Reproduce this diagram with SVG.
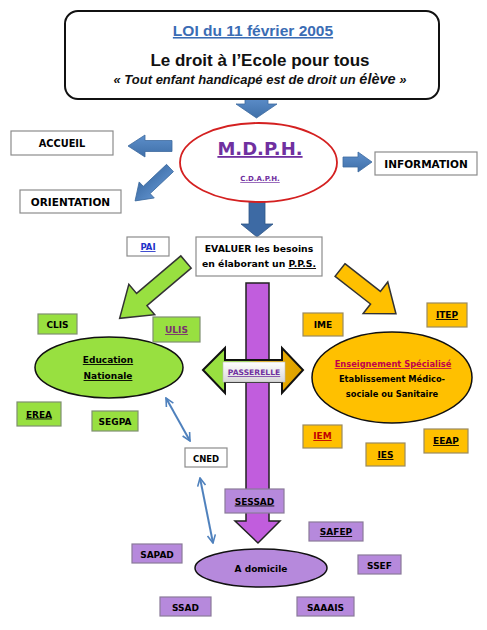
<svg xmlns="http://www.w3.org/2000/svg" width="487" height="630" viewBox="0 0 487 630">
<defs>
<style>
.c{font-family:"DejaVu Sans","Liberation Sans",sans-serif;font-weight:bold;text-anchor:middle;}
.a{font-family:"Liberation Sans",Arial,sans-serif;font-weight:bold;text-anchor:middle;}
.u{text-decoration:underline;}
.wb{fill:#fff;stroke:#8c8c8c;stroke-width:1.2;}
.gb{fill:#98e040;stroke:#7f8f70;stroke-width:1.2;}
.ob{fill:#ffc000;stroke:#9a8a60;stroke-width:1.2;}
.pb{fill:#b689dc;stroke:#8a7a99;stroke-width:1.2;}
.blue{fill:url(#gblue);stroke:#3d6a9e;stroke-width:0.8;}
</style>
<linearGradient id="gblue" x1="0" y1="0" x2="0" y2="1">
<stop offset="0" stop-color="#5d8fcb"/><stop offset="1" stop-color="#3f6fa8"/>
</linearGradient>
<linearGradient id="gpass" x1="0" y1="0" x2="1" y2="0">
<stop offset="0" stop-color="#98e040"/><stop offset="0.45" stop-color="#98e040"/>
<stop offset="0.55" stop-color="#f0b400"/><stop offset="1" stop-color="#dca000"/>
</linearGradient>
<linearGradient id="glab" x1="0" y1="0" x2="0" y2="1">
<stop offset="0" stop-color="#ffffff"/><stop offset="1" stop-color="#d8d8d8"/>
</linearGradient>
<marker id="ah" viewBox="0 0 10 10" refX="9" refY="5" markerWidth="5" markerHeight="5" orient="auto-start-reverse" markerUnits="strokeWidth">
<path d="M1,1 L9,5 L1,9" fill="none" stroke="#4f81bd" stroke-width="1.6"/>
</marker>
</defs>
<rect width="487" height="630" fill="#fff"/>

<g id="connectors">
<polygon class="blue" points="245,97 268,97 268,104 277,104 256.5,118 236,104 245,104"/>
<polygon class="blue" points="172,140.5 145,140.5 145,135 128,146 145,157 145,151.5 172,151.5"/>
<polygon class="blue" transform="translate(170,168) rotate(136.7)" points="0,-5 32,-5 32,-11 48,0 32,11 32,5 0,5"/>
<polygon class="blue" points="343,157 358,157 358,152 372,162 358,172 358,167 343,167"/>
<polygon fill="#3d6aa4" stroke="#2f5585" stroke-width="0.8" points="249,197 265,197 265,224 273,224 257,237 241,224 249,224"/>
<polygon fill="#98e040" stroke="#333" stroke-width="1.5" transform="translate(186,262) rotate(139.7)" points="0,-8 58,-8 58,-20 87,0 58,20 58,8 0,8"/>
<polygon fill="#ffc000" stroke="#333" stroke-width="1.5" transform="translate(340,270) rotate(38)" points="0,-8 45,-8 45,-20 71,0 45,20 45,8 0,8"/>
<polygon fill="#c15ddd" stroke="#222" stroke-width="1.5" points="246,283 269,283 269,521 280,521 258,543 235,521 246,521"/>
<polygon fill="url(#gpass)" stroke="#111" stroke-width="2" points="203,370 225,348 225,360 282,360 282,348 303,370 282,393 282,382 225,382 225,393"/>
<line x1="166" y1="398" x2="190" y2="441" stroke="#4f81bd" stroke-width="2" marker-start="url(#ah)" marker-end="url(#ah)"/>
<line x1="200" y1="478" x2="213" y2="543" stroke="#4f81bd" stroke-width="2" marker-start="url(#ah)" marker-end="url(#ah)"/>
</g>

<g id="loi">
<rect x="65" y="11" width="374" height="88" rx="13" fill="#fff" stroke="#111" stroke-width="2"/>
<text class="a u" x="253" y="36" font-size="15.5" fill="#3a6cb4">LOI du 11 février 2005</text>
<text class="a" x="260" y="66" font-size="17" fill="#111">Le droit à l’Ecole pour tous</text>
<text class="a" x="260" y="84" font-size="13" font-style="italic" fill="#111">« Tout enfant handicapé est de droit un <tspan font-size="14.5">élève</tspan> »</text>
</g>

<g id="mdph">
<ellipse cx="258.5" cy="162.5" rx="78.5" ry="39.5" fill="#fff" stroke="#d42020" stroke-width="1.8"/>
<text class="c u" x="260" y="155" font-size="18" fill="#7030a0">M.D.P.H.</text>
<text class="c u" x="260" y="181" font-size="7" fill="#7030a0">C.D.A.P.H.</text>
</g>

<g id="accueil"><rect class="wb" x="11" y="131" width="102" height="24"/><text class="c" x="62" y="147" font-size="9.8">ACCUEIL</text></g>
<g id="orientation"><rect class="wb" x="20" y="190" width="101" height="23"/><text class="c" x="70.5" y="205.5" font-size="10.5">ORIENTATION</text></g>
<g id="information"><rect class="wb" x="375" y="152" width="102" height="23"/><text class="c" x="426" y="167.5" font-size="10.5">INFORMATION</text></g>

<g id="evaluer">
<rect class="wb" x="196" y="237" width="126" height="39"/>
<text class="c" x="259" y="252" font-size="9.3">EVALUER les besoins</text>
<text class="c" x="259" y="267" font-size="9.3">en élaborant un <tspan class="u">P.P.S.</tspan></text>
</g>
<g id="pai"><rect class="wb" x="127" y="237" width="42" height="19"/><text class="c u" x="148" y="250" font-size="8.5" fill="#2030c8">PAI</text></g>

<g id="education">
<ellipse cx="109" cy="367.5" rx="74" ry="30.5" fill="#98e040" stroke="#111" stroke-width="1.5"/>
<text class="c u" x="108" y="363" font-size="9">Education</text>
<text class="c u" x="108" y="379" font-size="9">Nationale</text>
</g>
<g id="clis"><rect class="gb" x="38" y="314" width="39" height="20"/><text class="c" x="57.5" y="328" font-size="9">CLIS</text></g>
<g id="ulis"><rect class="gb" x="153" y="317" width="47" height="25"/><text class="c u" x="176.5" y="333" font-size="9" fill="#7a3070">ULIS</text></g>
<g id="erea"><rect class="gb" x="17" y="402" width="44" height="24"/><text class="c u" x="39" y="417.5" font-size="9">EREA</text></g>
<g id="segpa"><rect class="gb" x="92" y="411" width="46" height="20"/><text class="c" x="115" y="425" font-size="9">SEGPA</text></g>

<g id="passerelle">
<rect x="223" y="362" width="62" height="20" fill="url(#glab)" stroke="#bbb" stroke-width="0.6"/>
<text class="c u" x="254" y="375" font-size="7.6" fill="#7030a0" font-weight="normal">PASSERELLE</text>
</g>

<g id="specialise">
<ellipse cx="392" cy="377.5" rx="80" ry="45.5" fill="#ffc000" stroke="#111" stroke-width="1.5"/>
<text class="c u" x="393" y="367" font-size="8.3" fill="#c0004a" font-weight="normal">Enseignement Spécialisé</text>
<text class="c" x="392" y="382" font-size="8.3">Etablissement Médico-</text>
<text class="c" x="392" y="397" font-size="8.3">sociale ou Sanitaire</text>
</g>
<g id="ime"><rect class="ob" x="303" y="313" width="40" height="23"/><text class="c" x="323" y="328" font-size="9">IME</text></g>
<g id="itep"><rect class="ob" x="427" y="303" width="40" height="24"/><text class="c u" x="447" y="318" font-size="9">ITEP</text></g>
<g id="iem"><rect class="ob" x="303" y="425" width="39" height="23"/><text class="c u" x="322.5" y="439" font-size="9" fill="#c00000">IEM</text></g>
<g id="ies"><rect class="ob" x="366" y="443" width="39" height="23"/><text class="c u" x="385.5" y="458" font-size="9">IES</text></g>
<g id="eeap"><rect class="ob" x="424" y="429" width="44" height="24"/><text class="c u" x="446" y="444" font-size="9">EEAP</text></g>

<g id="cned"><rect class="wb" x="185" y="448" width="42" height="19"/><text class="c" x="206" y="461.5" font-size="8.5" font-weight="normal">CNED</text></g>

<g id="sessad"><rect class="pb" x="225" y="489" width="59" height="24"/><text class="c u" x="254.5" y="504.5" font-size="9">SESSAD</text></g>

<g id="domicile">
<ellipse cx="261" cy="568" rx="66" ry="19" fill="#b689dc" stroke="#111" stroke-width="1.5"/>
<text class="c" x="261" y="572" font-size="9">A domicile</text>
</g>
<g id="safep"><rect class="pb" x="309" y="522" width="54" height="19"/><text class="c u" x="336" y="535" font-size="9">SAFEP</text></g>
<g id="ssef"><rect class="pb" x="358" y="555" width="43" height="19"/><text class="c" x="379.5" y="568.5" font-size="9">SSEF</text></g>
<g id="sapad"><rect class="pb" x="132" y="544" width="50" height="19"/><text class="c" x="157" y="557.5" font-size="9">SAPAD</text></g>
<g id="ssad"><rect class="pb" x="160" y="597" width="51" height="19"/><text class="c" x="185.5" y="610.5" font-size="9">SSAD</text></g>
<g id="saaais"><rect class="pb" x="297" y="597" width="57" height="19"/><text class="c" x="325.5" y="610.5" font-size="9">SAAAIS</text></g>
</svg>
